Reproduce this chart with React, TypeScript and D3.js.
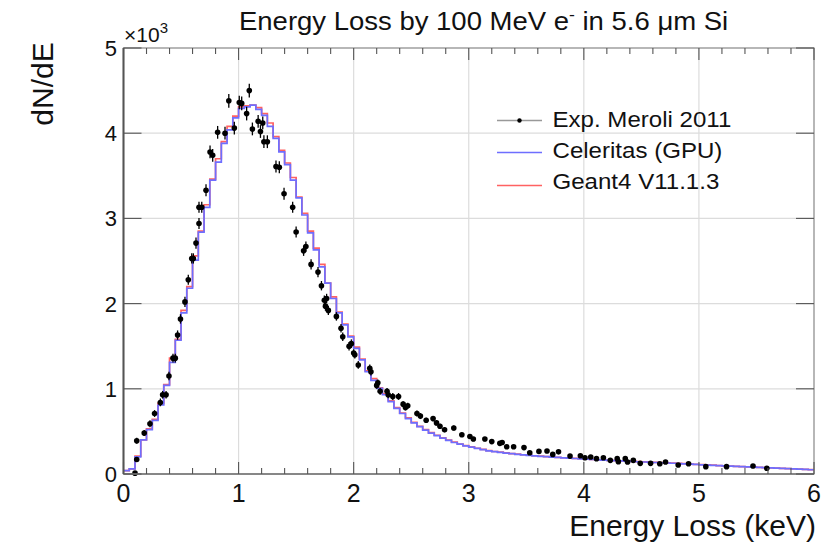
import React from 'react';
import * as d3 from 'd3';

const BIN_WIDTH = 0.05;

const celeritas = [
  40, 60, 200, 400, 520, 630, 810, 1040, 1310, 1570, 1890, 2180, 2510, 2840, 3130, 3450, 3660, 3880, 4040, 4180,
  4290, 4310, 4330, 4280, 4210, 4080, 3940, 3780, 3630, 3450, 3240, 3040, 2830, 2630, 2430, 2240, 2060, 1890, 1750, 1610,
  1475, 1340, 1200, 1100, 1006, 930, 850, 770, 710, 650, 600, 555, 515, 480, 450, 420, 395, 370, 350, 330,
  315, 300, 285, 272, 262, 254, 246, 238, 231, 225, 219, 213, 208, 203, 198, 194, 190, 186, 182, 178,
  174, 170, 166, 162, 159, 156, 153, 150, 147, 144, 141, 138, 135, 132, 129, 126, 123, 120, 116, 112,
  108, 105, 102, 98, 95, 92, 89, 86, 83, 80, 77, 74, 71, 68, 66, 63, 60, 57, 54, 50,
];

const geant4 = [
  40, 60, 210, 400, 530, 640, 830, 1050, 1360, 1580, 1920, 2200, 2560, 2850, 3160, 3460, 3700, 3900, 4080, 4200,
  4310, 4320, 4330, 4300, 4230, 4120, 3960, 3800, 3650, 3480, 3250, 3060, 2850, 2650, 2460, 2240, 2080, 1900, 1760, 1620,
  1490, 1350, 1210, 1120, 1010, 940, 860, 780, 715, 660, 605, 560, 520, 485, 455, 425, 398, 375, 352, 333,
  318, 302, 288, 274, 264, 256, 248, 240, 233, 226, 220, 214, 209, 204, 199, 195, 191, 187, 183, 179,
  175, 171, 167, 163, 160, 157, 154, 151, 148, 145, 142, 139, 136, 133, 130, 127, 124, 121, 117, 113,
  109, 106, 103, 99, 96, 93, 90, 87, 84, 81, 78, 75, 72, 69, 67, 64, 61, 58, 55, 51,
];

const expX = [
  0.10, 0.115, 0.115, 0.18, 0.23, 0.27, 0.32, 0.34, 0.37, 0.395,
  0.43, 0.45, 0.47, 0.495, 0.534, 0.563, 0.593, 0.607, 0.63, 0.656,
  0.656, 0.68, 0.717, 0.752, 0.775, 0.818, 0.882, 0.915, 0.963, 1.006,
  1.027, 1.07, 1.093, 1.12, 1.17, 1.19, 1.21, 1.22, 1.25, 1.325,
  1.354, 1.395, 1.47, 1.50, 1.565, 1.585, 1.63, 1.69, 1.72, 1.745,
  1.755, 1.765, 1.78, 1.85, 1.89, 1.905, 1.96, 1.98, 2.0, 2.01,
  2.04, 2.14, 2.15, 2.20, 2.21, 2.23, 2.29, 2.30, 2.34, 2.39,
  2.43, 2.45, 2.47, 2.55, 2.58, 2.63, 2.69, 2.72, 2.75, 2.79,
  2.87, 2.94, 3.01, 3.04, 3.14, 3.20, 3.27, 3.29, 3.33, 3.39,
  3.48, 3.53, 3.61, 3.68, 3.73, 3.78, 3.88, 3.97, 4.01, 4.06,
  4.11, 4.17, 4.23, 4.29, 4.30, 4.36, 4.38, 4.43, 4.49, 4.58,
  4.66, 4.71, 4.82, 4.91, 5.06, 5.24, 5.47, 5.59,
];

const expY = [
  10, 170, 390, 480, 590, 710, 840, 930, 930, 1150,
  1360, 1360, 1630, 1820, 2020, 2280, 2530, 2530, 2710, 2940,
  3130, 3130, 3330, 3780, 3740, 4010, 4000, 4380, 4060, 4360,
  4350, 4230, 4500, 4050, 4140, 4020, 4120, 3900, 3900, 3610,
  3600, 3290, 3130, 2840, 2620, 2670, 2460, 2370, 2210, 2040,
  1970, 2060, 1920, 1850, 1710, 1610, 1500, 1530, 1420, 1400,
  1280, 1240, 1200, 1040, 1070, 970, 970, 930, 910, 910,
  820, 780, 800, 710, 680, 630, 650, 600, 560, 520,
  540, 460, 440, 410, 410, 380, 360, 370, 320, 320,
  310, 250, 265, 270, 230, 260, 210, 215, 190, 200,
  180, 190, 160, 180, 145, 180, 140, 160, 125, 125,
  120, 140, 105, 120, 86, 86, 94, 67,
];

const expErr = [
  15, 25, 35, 35, 40, 40, 45, 45, 45, 50,
  50, 50, 55, 55, 60, 60, 60, 60, 65, 65,
  65, 65, 70, 75, 75, 75, 75, 80, 75, 80,
  80, 80, 80, 75, 75, 75, 75, 75, 75, 70,
  70, 70, 65, 65, 60, 60, 60, 60, 55, 55,
  55, 55, 55, 50, 50, 50, 50, 50, 45, 45,
  45, 45, 45, 40, 40, 40, 40, 40, 40, 40,
  35, 35, 35, 35, 35, 30, 30, 30, 30, 30,
  30, 25, 25, 25, 25, 25, 25, 25, 20, 20,
  20, 20, 20, 20, 20, 20, 20, 20, 18, 18,
  18, 18, 18, 18, 18, 18, 18, 18, 15, 15,
  15, 15, 15, 15, 15, 15, 15, 15,
];

const xTicks = [0, 1, 2, 3, 4, 5, 6];
const yTicks = [0, 1000, 2000, 3000, 4000, 5000];
const yTickLabels = ['0', '1', '2', '3', '4', '5'];
const legendLabels = ['Exp. Meroli 2011', 'Celeritas (GPU)', 'Geant4 V11.1.3'];

const FONT = '"Liberation Sans", Arial, Helvetica, sans-serif';
const BLUE = '#6e6eff';
const RED = '#ff6262';

export default function App() {
  const W = 825;
  const H = 543;
  const L = 123.5, R = 814, T = 48, B = 474;
  const x = d3.scaleLinear().domain([0, 6]).range([L, R]);
  const y = d3.scaleLinear().domain([0, 5000]).range([B, T]);

  const histPath = (vals: number[]) => {
    const pts: [number, number][] = vals.map((v, i) => [i * BIN_WIDTH, v]);
    pts.push([vals.length * BIN_WIDTH, vals[vals.length - 1]]);
    return d3
      .line<[number, number]>()
      .x((d) => x(d[0]))
      .y((d) => y(d[1]))
      .curve(d3.curveStepAfter)(pts) as string;
  };

  const minor = d3.range(0, 6.0001, 0.2).filter((v) => Math.abs(v - Math.round(v)) > 1e-6);
  const gridX = xTicks.slice(1, -1);
  const gridY = yTicks.slice(1, -1);
  const legendLineY = [120.5, 152.5, 185.5];
  const legendTextY = [127, 157.5, 189];

  return (
    <svg
      width={W}
      height={H}
      viewBox={`0 0 ${W} ${H}`}
      style={{ position: 'absolute', left: 0, top: 0, background: '#fff' }}
      fontFamily={FONT}
    >
      <rect x={0} y={0} width={W} height={H} fill="#fff" />
      {/* grid */}
      {gridX.map((v) => (
        <line key={'gx' + v} x1={x(v)} x2={x(v)} y1={T} y2={B} stroke="#dcdcdc" strokeWidth={1.2} />
      ))}
      {gridY.map((v) => (
        <line key={'gy' + v} x1={L} x2={R} y1={y(v)} y2={y(v)} stroke="#dcdcdc" strokeWidth={1.2} />
      ))}

      {/* histograms */}
      <path d={histPath(geant4)} fill="none" stroke={RED} strokeWidth={1.7} />
      <path d={histPath(celeritas)} fill="none" stroke={BLUE} strokeWidth={1.7} />

      {/* experimental points */}
      {expX.map((xv, i) => (
        <g key={'e' + i}>
          <line
            x1={x(xv)}
            x2={x(xv)}
            y1={y(expY[i] - expErr[i])}
            y2={y(expY[i] + expErr[i])}
            stroke="#000"
            strokeWidth={1.3}
          />
          <circle cx={x(xv)} cy={y(expY[i])} r={2.8} fill="#000" />
        </g>
      ))}

      {/* frame */}
      <rect x={L} y={T} width={R - L} height={B - T} fill="none" stroke="#888" strokeWidth={1.2} />
      <line x1={L} x2={L} y1={T} y2={B} stroke="#555" strokeWidth={2} />
      <line x1={L} x2={R} y1={B} y2={B} stroke="#777" strokeWidth={1.6} />

      {/* ticks x */}
      {minor.map((v) => (
        <g key={'mx' + v}>
          <line x1={x(v)} x2={x(v)} y1={B} y2={B - 6} stroke="#555" strokeWidth={1.1} />
          <line x1={x(v)} x2={x(v)} y1={T} y2={T + 6} stroke="#555" strokeWidth={1.1} />
        </g>
      ))}
      {xTicks.map((v) => (
        <g key={'Mx' + v}>
          <line x1={x(v)} x2={x(v)} y1={B} y2={B - 12} stroke="#555" strokeWidth={1.1} />
          <line x1={x(v)} x2={x(v)} y1={T} y2={T + 12} stroke="#555" strokeWidth={1.1} />
        </g>
      ))}
      {yTicks.map((v) => (
        <g key={'My' + v}>
          <line x1={L} x2={L + 18} y1={y(v)} y2={y(v)} stroke="#555" strokeWidth={1.1} />
          <line x1={R} x2={R - 18} y1={y(v)} y2={y(v)} stroke="#555" strokeWidth={1.1} />
        </g>
      ))}

      {/* tick labels */}
      {xTicks.map((v) => (
        <text key={'lx' + v} x={x(v)} y={502} fontSize={25} textAnchor="middle" fill="#111">
          {v}
        </text>
      ))}
      {yTicks.map((v, i) => (
        <text key={'ly' + v} x={117} y={y(v) + 8} fontSize={22} textAnchor="end" fill="#111">
          {yTickLabels[i]}
        </text>
      ))}
      <text x={124} y={42} fontSize={21} fill="#111">
        ×10<tspan dy={-9} fontSize={15}>3</tspan>
      </text>

      {/* axis titles */}
      <text x={816} y={536} fontSize={30} textAnchor="end" fill="#111">
        Energy Loss (keV)
      </text>
      <text transform={`translate(53,84) rotate(-90)`} fontSize={30} textAnchor="middle" fill="#111">
        dN/dE
      </text>

      {/* title */}
      <text transform="translate(239,29.5) scale(1.1,1)" x={0} y={0} fontSize={25} fill="#111">
        Energy Loss by 100 MeV e<tspan dy={-10} fontSize={16}>-</tspan>
        <tspan dy={10}> in 5.6 μm Si</tspan>
      </text>

      {/* legend */}
      <g>
        <line x1={497} x2={542} y1={legendLineY[0]} y2={legendLineY[0]} stroke="#999" strokeWidth={1.4} />
        <circle cx={519.5} cy={legendLineY[0]} r={2.2} fill="#000" />
        <line x1={497} x2={542} y1={legendLineY[1]} y2={legendLineY[1]} stroke={BLUE} strokeWidth={1.6} />
        <line x1={497} x2={542} y1={legendLineY[2]} y2={legendLineY[2]} stroke={RED} strokeWidth={1.6} />
        {legendLabels.map((t, i) => (
          <text
            key={t}
            transform={`translate(552.5,${legendTextY[i]}) scale(1.12,1)`}
            fontSize={21.5}
            fill="#111"
          >
            {t}
          </text>
        ))}
      </g>
    </svg>
  );
}
